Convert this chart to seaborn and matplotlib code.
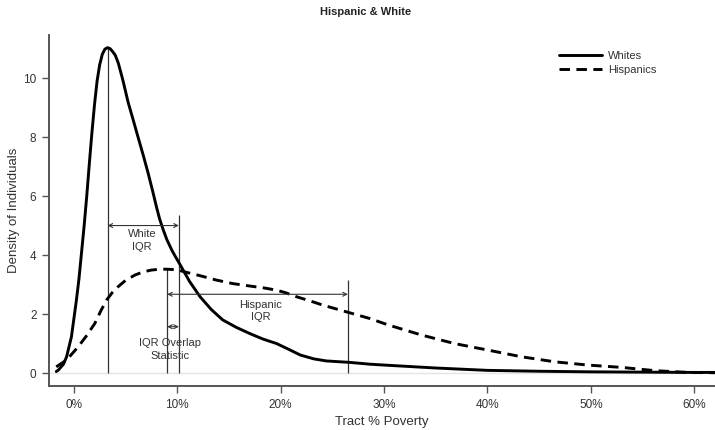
import matplotlib
matplotlib.use("Agg")
import matplotlib.pyplot as plt
from matplotlib.lines import Line2D
import seaborn as sns
import pandas as pd

# ---- data ----
white_x = [-1.7, -1.5, -1.0, -0.7, -0.23, 0.25, 0.5, 0.75, 1.0, 1.25, 1.5, 1.75, 2.0,
           2.25, 2.5, 2.75, 3.0, 3.26, 3.5, 3.75, 4.0, 4.29, 4.5, 4.75, 5.25, 5.75, 6.2, 6.7,
           7.19, 7.6, 8.0, 8.3, 8.64, 9.0, 9.5, 9.85, 10.2, 11.2, 12.2, 13.3, 14.4, 15.7, 17.0,
           18.3, 19.6, 20.8, 21.9, 23.2, 24.4, 26.7, 28.6, 30.0, 35.0, 40.0, 45.0, 50.0,
           55.0, 60.0, 62.0]
white_y = [0.05, 0.1, 0.3, 0.55, 1.23, 2.47, 3.2, 4.1, 5.0, 6.0, 7.1, 8.15, 9.1,
           9.9, 10.45, 10.8, 10.98, 11.03, 11.0, 10.9, 10.78, 10.52, 10.25, 9.92, 9.18, 8.57, 8.01, 7.4,
           6.77, 6.2, 5.62, 5.22, 4.86, 4.52, 4.15, 3.93, 3.72, 3.1, 2.59, 2.15, 1.8, 1.55, 1.34,
           1.15, 1.0, 0.8, 0.61, 0.48, 0.41, 0.36, 0.3, 0.27, 0.17, 0.09, 0.06, 0.04,
           0.03, 0.02, 0.02]
hisp_x = [-1.7, -0.7, 0.42, 1.2, 2.03, 2.6, 3.16, 3.7, 4.29, 5.0, 5.9, 6.7, 7.5, 8.3,
          9.0, 10.0, 10.7, 12.2, 13.8, 15.4, 17.0, 18.3, 19.6, 20.5, 21.5, 22.8, 24.1,
          25.4, 26.7, 28.6, 30.4, 33.6, 36.8, 40.0, 43.3, 46.5, 49.7, 53.0, 56.2, 59.4, 62.0]
hisp_y = [0.21, 0.44, 0.89, 1.25, 1.68, 2.1, 2.47, 2.72, 2.93, 3.14, 3.32, 3.43, 3.49, 3.52,
          3.52, 3.5, 3.43, 3.3, 3.15, 3.03, 2.95, 2.89, 2.81, 2.72, 2.59, 2.45, 2.3,
          2.17, 2.04, 1.85, 1.63, 1.29, 1.0, 0.78, 0.55, 0.38, 0.27, 0.19, 0.08, 0.02, 0.01]
groups = ["Whites", "Hispanics"]

white_iqr = [3.26, 10.16]
white_iqr_tops = [11.03, 5.35]
hisp_iqr = [9.03, 26.5]
hisp_iqr_tops = [3.52, 3.17]

x_ticks = [0, 10, 20, 30, 40, 50, 60]
x_ticklabels = ["0%", "10%", "20%", "30%", "40%", "50%", "60%"]
y_ticks = [0, 2, 4, 6, 8, 10]

df = pd.concat([
    pd.DataFrame({"x": white_x, "y": white_y, "group": groups[0]}),
    pd.DataFrame({"x": hisp_x, "y": hisp_y, "group": groups[1]}),
], ignore_index=True)

sns.set_style("white")
plt.rcParams["font.family"] = ["Liberation Sans", "DejaVu Sans"]

fig = plt.figure(figsize=(7.15, 4.3), dpi=100)
ax = fig.add_axes([49 / 715, 1 - 386 / 430, 1 - 49 / 715, (386 - 35) / 430])

ax.axhline(0, color="#e4e4e4", lw=1.0, zorder=0)

dash = (3.6, 2.2)
sns.lineplot(data=df, x="x", y="y", style="group", style_order=groups,
             dashes={"Whites": "", "Hispanics": dash},
             color="black", lw=2.1, legend=False, ax=ax, estimator=None, sort=False)

line_c = "#333333"
for xv, top in zip(white_iqr + hisp_iqr, white_iqr_tops + hisp_iqr_tops):
    ax.vlines(xv, 0, top, color=line_c, lw=0.9, zorder=1)

arrow = dict(arrowstyle="<->", color=line_c, lw=0.8, shrinkA=0, shrinkB=0,
             mutation_scale=7)
ax.annotate("", xy=(white_iqr[0], 5.0), xytext=(white_iqr[1], 5.0), arrowprops=arrow)
ax.annotate("", xy=(hisp_iqr[0], 2.67), xytext=(hisp_iqr[1], 2.67), arrowprops=arrow)
ax.annotate("", xy=(hisp_iqr[0], 1.57), xytext=(white_iqr[1], 1.57), arrowprops=arrow)

tc = "#333333"
ax.text(6.6, 4.5, "White\nIQR", ha="center", va="center", fontsize=8, color=tc,
        linespacing=1.35)
ax.text(18.1, 2.1, "Hispanic\nIQR", ha="center", va="center", fontsize=8, color=tc,
        linespacing=1.35)
ax.text(9.3, 0.8, "IQR Overlap\nStatistic", ha="center", va="center", fontsize=8,
        color=tc, linespacing=1.35)

ax.set_xlim(-2.4, 62.0)
ax.set_ylim(-0.44, 11.46)
ax.set_xticks(x_ticks)
ax.set_xticklabels(x_ticklabels)
ax.set_yticks(y_ticks)

spine_c = "#555555"
for s in ["top", "right"]:
    ax.spines[s].set_visible(False)
for s in ["left", "bottom"]:
    ax.spines[s].set_color(spine_c)
    ax.spines[s].set_linewidth(1.4)
ax.tick_params(axis="both", which="both", direction="out", length=5, width=1,
               color=spine_c, labelcolor=tc, labelsize=8.5, pad=4, bottom=True, left=True)
ax.tick_params(axis="x", pad=4)

ax.set_xlabel("Tract % Poverty", fontsize=9.5, color=tc, labelpad=4)
ax.set_ylabel("Density of Individuals", fontsize=9.5, color=tc, labelpad=2)
fig.text(0.511, 0.972, "Hispanic & White", ha="center", va="center", fontsize=8,
         fontweight="bold", color="#222222")

handles = [Line2D([], [], color="black", lw=2.1),
           Line2D([], [], color="black", lw=2.1, dashes=dash)]
ax.legend(handles, groups, loc="upper left", bbox_to_anchor=(0.759, 0.968),
          frameon=False, fontsize=8, handlelength=3.9, handletextpad=0.5,
          labelspacing=0.35, borderaxespad=0, labelcolor=tc)

fig.savefig("out.png", dpi=100)
